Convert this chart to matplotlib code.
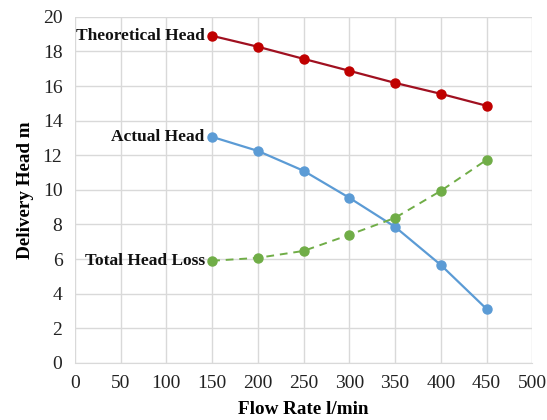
import matplotlib.pyplot as plt

# Data
flow = [150, 200, 250, 300, 350, 400, 450]
theoretical_head = [18.9, 18.27, 17.57, 16.88, 16.18, 15.55, 14.86]
actual_head = [13.06, 12.25, 11.1, 9.54, 7.86, 5.66, 3.12]
total_head_loss = [5.9, 6.07, 6.47, 7.4, 8.38, 9.94, 11.73]

plt.rcParams['font.family'] = ['Liberation Serif', 'DejaVu Serif']

fig = plt.figure(figsize=(5.47, 4.2), dpi=100)
ax = fig.add_axes([0.137, 0.136, 0.836, 0.824])

ax.plot(flow, theoretical_head, color='#A01020', lw=1.6, marker='o', ms=6.5,
        mfc='#C00000', mec='#C00000', zorder=3)
ax.plot(flow, actual_head, color='#5B9BD5', lw=1.6, marker='o', ms=6.5, zorder=3)
ax.plot(flow, total_head_loss, color='#70AD47', lw=1.4, ls=(0, (4, 3)), marker='o', ms=6.5,
        zorder=3)

lab = dict(fontsize=12.5, fontweight='bold', ha='right', va='center', color='#111111')
ax.text(flow[0] - 8, theoretical_head[0], 'Theoretical Head', **lab)
ax.text(flow[0] - 8, actual_head[0], 'Actual Head', **lab)
ax.text(flow[0] - 8, total_head_loss[0], 'Total Head Loss', **lab)

ax.set_xlim(0, 500)
ax.set_ylim(0, 20)
ax.set_xticks(range(0, 501, 50))
ax.set_yticks(range(0, 21, 2))
ax.grid(True, color='#D9D9D9', lw=1)
ax.set_axisbelow(True)
for s in ['top', 'right', 'left']:
    ax.spines[s].set_visible(False)
ax.spines['bottom'].set_color('#D9D9D9')
ax.tick_params(length=0, labelsize=14, colors='#222222', pad=9)

ax.set_xlabel('Flow Rate l/min', fontsize=13.8, fontweight='bold', labelpad=6)
ax.set_ylabel('Delivery Head m', fontsize=13.8, fontweight='bold', labelpad=6)

plt.savefig('out.png', dpi=100)
